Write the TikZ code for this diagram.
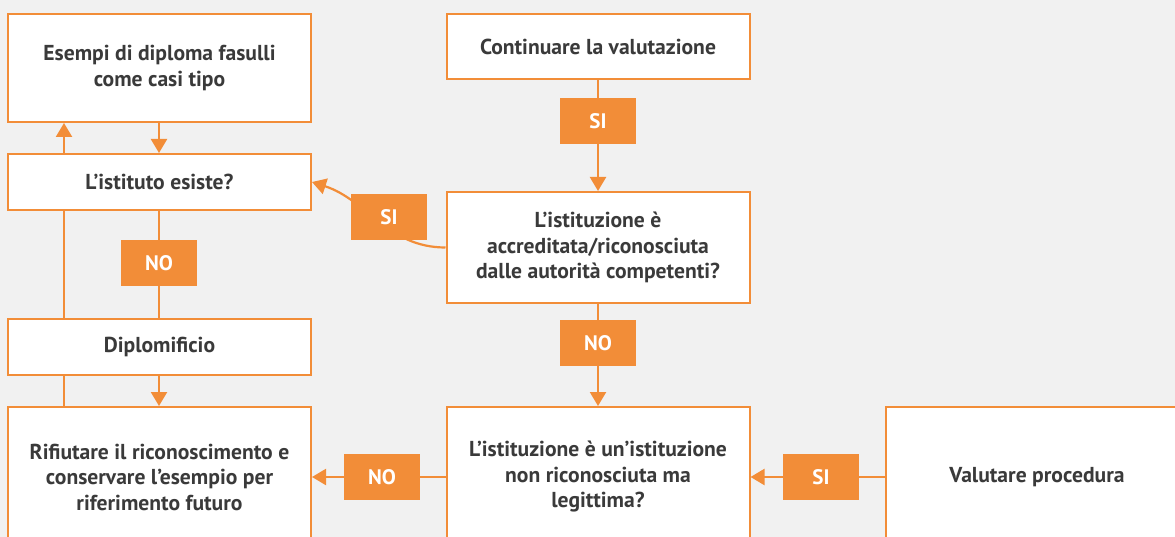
\documentclass[tikz,border=0pt]{standalone}
\usepackage{fontspec}
\setmainfont{PT Sans}
\usetikzlibrary{arrows.meta}

\definecolor{bggrey}{HTML}{F1F1F1}
\definecolor{orng}{HTML}{F28D38}
\definecolor{txtgrey}{HTML}{3A3A3A}

\pgfdeclarelayer{background}
\pgfsetlayers{background,main}

\tikzset{
    box/.style   = {draw=orng, line width=2pt, fill=white, text=txtgrey, align=center,
                    minimum width=303pt, font=\fontsize{21.6}{25.5}\selectfont\bfseries},
    answer/.style= {fill=orng, text=white, minimum width=76pt, minimum height=46pt,
                    font=\fontsize{21}{24}\selectfont\bfseries},
    flow/.style  = {orng, line width=2.2pt},
    arr/.style   = {flow, -{Triangle[length=14pt,width=16pt]}},
}

\begin{document}
\begin{tikzpicture}[x=1pt, y=-1pt]
    \useasboundingbox (0,0) rectangle (1175,537);
    \begin{pgfonlayer}{background}
        \fill[bggrey] (0,0) rectangle (1175,537);
    \end{pgfonlayer}
    \clip (0,0) rectangle (1175,537);

    % left column
    \node[box, minimum height=108pt] (esempi)   at ( 159.5,  68) {Esempi di diploma fasulli\\come casi tipo};
    \node[box, minimum height= 56pt] (esiste)   at ( 159.5, 182) {L’istituto esiste?};
    \node[box, minimum height= 56pt] (diplom)   at ( 159.5, 347) {Diplomificio};
    \node[box, minimum height=140pt] (rifiuto)  at ( 159.5, 477) {Rifiutare il riconoscimento e\\conservare l’esempio per\\riferimento futuro};

    % middle column
    \node[box, minimum height= 65pt] (continua) at ( 598,  46.5) {Continuare la valutazione};
    \node[box, minimum height=111pt] (accred)   at ( 598, 247.5) {L’istituzione è\\accreditata/riconosciuta\\dalle autorità competenti?};
    \node[box, minimum height=140pt] (legit)    at ( 598, 477) {L’istituzione è un’istituzione\\non riconosciuta ma\\legittima?};

    % right column
    \node[box, minimum height=140pt] (proced)   at (1037, 477) {Valutare procedura};

    % answers
    \node[answer] (si-a) at (598, 121) {SI};
    \node[answer] (si-b) at (389, 217) {SI};
    \node[answer] (no-a) at (159, 263) {NO};
    \node[answer] (no-b) at (598, 343) {NO};
    \node[answer] (no-c) at (382, 477) {NO};
    \node[answer] (si-c) at (821, 477) {SI};

    \coordinate (lft) at (64, 0);
    \coordinate (mid) at (159, 0);

    \begin{pgfonlayer}{background}
        \draw[arr ] (esempi.south -| mid)  -- (esiste.north -| mid);
        \draw[flow] (esiste.south -| mid)  -- (diplom.north -| mid);
        \draw[arr ] (diplom.south -| mid)  -- (rifiuto.north -| mid);

        \draw[flow] (rifiuto.north -| lft) -- (diplom.south -| lft);
        \draw[flow] (diplom.north -| lft)  -- (esiste.south -| lft);
        \draw[arr ] (esiste.north -| lft)  -- (esempi.south -| lft);

        \draw[arr ] (continua) -- (accred);
        \draw[arr ] (accred)   -- (legit);
        \draw[arr ] (accred.west) to[out=180, in=-18] (esiste.east);
        \draw[arr ] (legit)    -- (rifiuto);
        \draw[arr ] (proced)   -- (legit);
    \end{pgfonlayer}
\end{tikzpicture}
\end{document}
